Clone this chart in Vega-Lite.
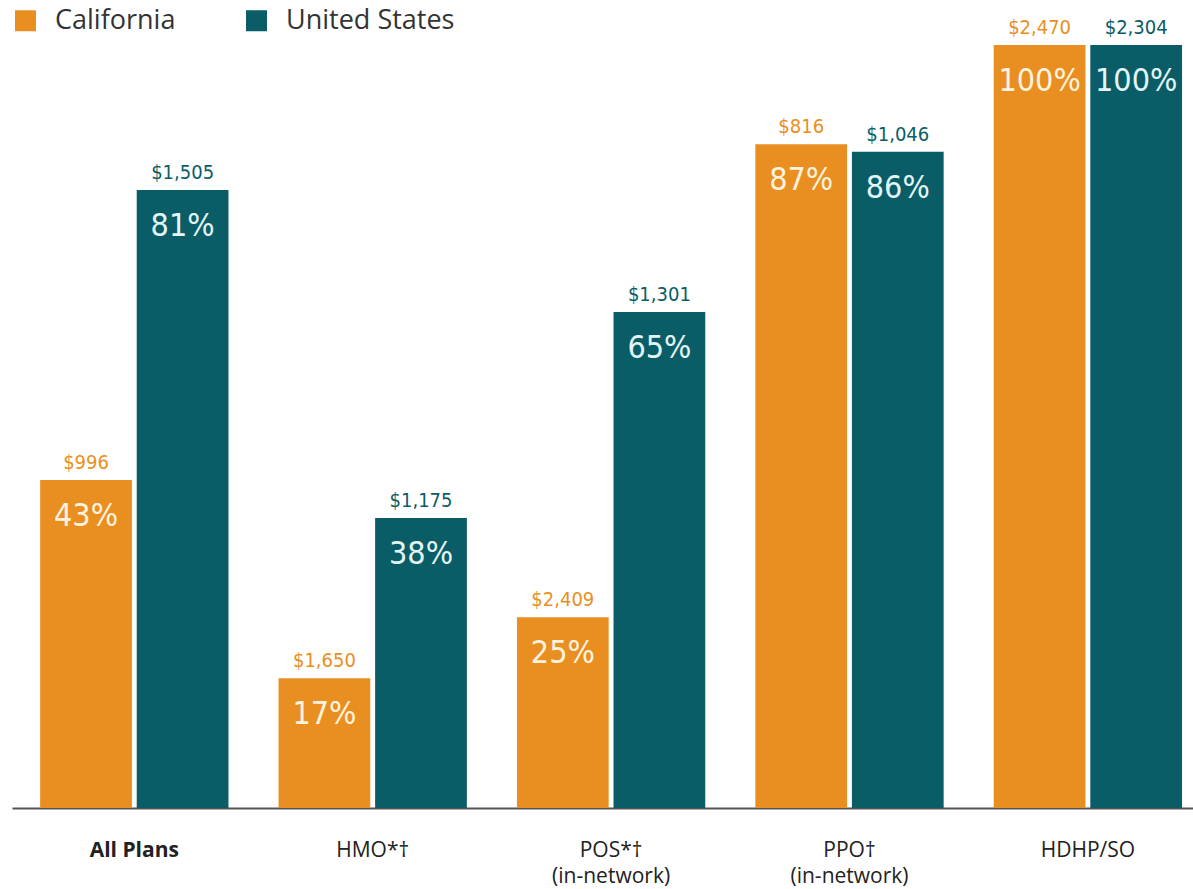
{
  "$schema": "https://vega.github.io/schema/vega-lite/v6.json",
  "autosize": "none",
  "padding": {"left": 12, "top": 45, "right": 0, "bottom": 81},
  "width": 1181,
  "height": 763,
  "background": "white",
  "config": {"view": {"stroke": null}},
  "data": {"values": [
    {"plan": "All Plans", "region": "California", "pct": 43, "pctLabel": "43%", "cost": "$996"},
    {"plan": "All Plans", "region": "United States", "pct": 81, "pctLabel": "81%", "cost": "$1,505"},
    {"plan": "HMO*†", "region": "California", "pct": 17, "pctLabel": "17%", "cost": "$1,650"},
    {"plan": "HMO*†", "region": "United States", "pct": 38, "pctLabel": "38%", "cost": "$1,175"},
    {"plan": "POS*†|(in-network)", "region": "California", "pct": 25, "pctLabel": "25%", "cost": "$2,409"},
    {"plan": "POS*†|(in-network)", "region": "United States", "pct": 65, "pctLabel": "65%", "cost": "$1,301"},
    {"plan": "PPO†|(in-network)", "region": "California", "pct": 87, "pctLabel": "87%", "cost": "$816"},
    {"plan": "PPO†|(in-network)", "region": "United States", "pct": 86, "pctLabel": "86%", "cost": "$1,046"},
    {"plan": "HDHP/SO", "region": "California", "pct": 100, "pctLabel": "100%", "cost": "$2,470"},
    {"plan": "HDHP/SO", "region": "United States", "pct": 100, "pctLabel": "100%", "cost": "$2,304"}
  ]},
  "encoding": {
    "x": {
      "field": "plan", "type": "nominal", "sort": null,
      "scale": {"paddingInner": 0.21, "paddingOuter": 0.082, "align": 0.72},
      "axis": {
        "title": null, "orient": "bottom", "ticks": false,
        "domainColor": "#555555", "domainWidth": 2,
        "labelAngle": 0, "labelFont": "Open Sans", "labelFontSize": 21, "labelColor": "#222222",
        "labelPadding": 31, "labelLineHeight": 26,
        "labelExpr": "split(datum.label, '|')",
        "labelFontWeight": {"condition": {"test": "datum.value == 'All Plans'", "value": "bold"}, "value": "normal"}
      }
    },
    "xOffset": {"field": "region", "type": "nominal", "scale": {"paddingInner": 0.05}},
    "y": {"field": "pct", "type": "quantitative", "scale": {"domain": [0, 100], "nice": false}, "axis": null}
  },
  "layer": [
    {
      "mark": {"type": "bar"},
      "encoding": {
        "color": {
          "field": "region", "type": "nominal",
          "scale": {"domain": ["California", "United States"], "range": ["#E98F22", "#0A5D66"]},
          "legend": {
            "title": null, "orient": "none", "legendX": 0, "legendY": -38, "direction": "horizontal",
            "symbolType": "square", "symbolSize": 441, "symbolStrokeWidth": 0,
            "labelFont": "Open Sans", "labelFontSize": 27, "labelColor": "#333333", "labelLimit": 400,
            "labelOffset": 16, "columnPadding": 67
          }
        }
      }
    },
    {
      "mark": {"type": "text", "baseline": "bottom", "dy": -7, "font": "DejaVu Sans Condensed", "fontSize": 20},
      "encoding": {
        "text": {"field": "cost"},
        "color": {"field": "region", "type": "nominal", "scale": {"domain": ["California", "United States"], "range": ["#E98F22", "#0A5D66"]}, "legend": null}
      }
    },
    {
      "mark": {"type": "text", "baseline": "top", "dy": 21, "font": "DejaVu Sans Condensed", "fontSize": 32},
      "encoding": {
        "text": {"field": "pctLabel"},
        "color": {"condition": {"test": "datum.region == 'California'", "value": "#FFF3DF"}, "value": "#E3F6F6"}
      }
    }
  ]
}
